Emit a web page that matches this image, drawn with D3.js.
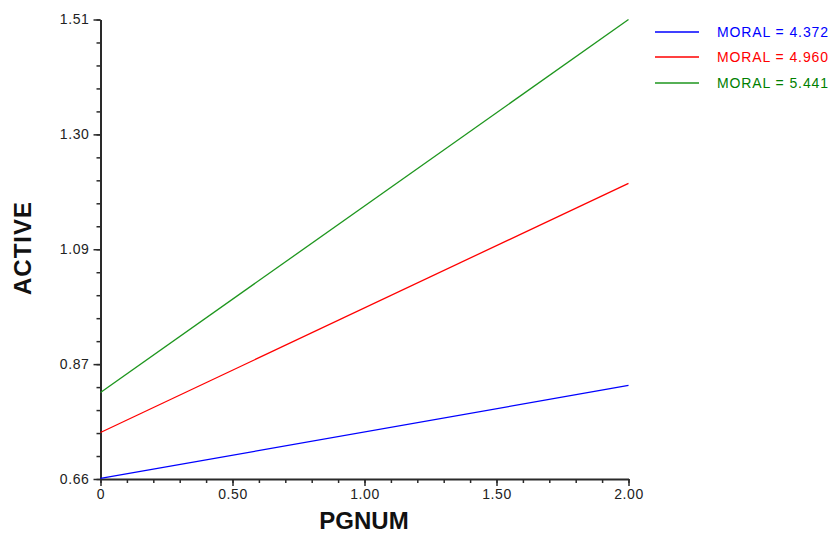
<!DOCTYPE html>
<html>
<head>
<meta charset="utf-8">
<script src="https://cdn.jsdelivr.net/npm/d3@7"></script>
<style>
  html, body { margin: 0; padding: 0; background: #fff; }
  svg { display: block; }
  text { font-family: "Liberation Sans", Arial, sans-serif; }
</style>
</head>
<body>
<svg id="chart" width="835" height="536"></svg>
<script>
// ---- data ----
const pgnum = [0, 2];
const seriesNames = ["MORAL = 4.372", "MORAL = 4.960", "MORAL = 5.441"];
const seriesColors = ["#0000ff", "#ff0000", "#1e961e"];
const textColors = ["#0000ff", "#ff0000", "#008000"];
const blueValues = [0.661, 0.833];
const redValues = [0.746, 1.207];
const greenValues = [0.820, 1.510];
const xTickValues = [0, 0.5, 1, 1.5, 2];
const xTickLabels = ["0", "0.50", "1.00", "1.50", "2.00"];
const yTickValues = [0.66, 0.8725, 1.085, 1.2975, 1.51];
const yTickLabels = ["0.66", "0.87", "1.09", "1.30", "1.51"];

const allSeries = [blueValues, redValues, greenValues];

const svg = d3.select("#chart");
const x = d3.scaleLinear().domain([0, 2]).range([100.5, 628.5]);
const y = d3.scaleLinear().domain([0.66, 1.51]).range([479, 19.5]);

const axisColor = "#2a2a2a";

// minor ticks
const xMinor = d3.range(0, 21).map(i => i * 0.1);
const yMinor = d3.range(0, 21).map(i => 0.66 + i * (1.51 - 0.66) / 20);

svg.append("g")
  .attr("transform", "translate(0,479)")
  .call(d3.axisBottom(x).tickValues(xMinor).tickFormat("").tickSize(4).tickSizeOuter(0))
  .call(g => g.select(".domain").remove())
  .call(g => g.selectAll("line").attr("stroke", axisColor).attr("stroke-width", 1.5));

svg.append("g")
  .attr("transform", "translate(100.5,0)")
  .call(d3.axisLeft(y).tickValues(yMinor).tickFormat("").tickSize(4).tickSizeOuter(0))
  .call(g => g.select(".domain").remove())
  .call(g => g.selectAll("line").attr("stroke", axisColor).attr("stroke-width", 1.5));

// major axes
const xAxis = svg.append("g")
  .attr("transform", "translate(0,479)")
  .call(d3.axisBottom(x).tickValues(xTickValues)
    .tickFormat((d, i) => xTickLabels[i]).tickSize(7).tickSizeOuter(0).tickPadding(3));
xAxis.select(".domain").attr("stroke", axisColor).attr("stroke-width", 2);
xAxis.selectAll("line").attr("stroke", axisColor).attr("stroke-width", 1.5);
xAxis.selectAll("text").attr("fill", "#222").style("font-size", "14px").style("letter-spacing", "0.6px")
  .style("font-family", "'Liberation Sans', Arial, sans-serif");

const yAxis = svg.append("g")
  .attr("transform", "translate(100.5,0)")
  .call(d3.axisLeft(y).tickValues(yTickValues)
    .tickFormat((d, i) => yTickLabels[i]).tickSize(7).tickSizeOuter(0).tickPadding(4));
yAxis.select(".domain").attr("stroke", axisColor).attr("stroke-width", 2);
yAxis.selectAll("line").attr("stroke", axisColor).attr("stroke-width", 1.5);
yAxis.selectAll("text").attr("fill", "#222").style("font-size", "14px").style("letter-spacing", "0.6px")
  .style("font-family", "'Liberation Sans', Arial, sans-serif");

// axis titles
svg.append("text")
  .attr("x", 364).attr("y", 529)
  .attr("text-anchor", "middle")
  .style("font-size", "24px").style("font-weight", "bold").attr("fill", "#111")
  .text("PGNUM");

svg.append("text")
  .attr("transform", "translate(31,248) rotate(-90)")
  .attr("text-anchor", "middle")
  .style("font-size", "24px").style("font-weight", "bold").attr("fill", "#111")
  .style("letter-spacing", "1px")
  .text("ACTIVE");

// lines
const line = d3.line().x((d, i) => x(pgnum[i])).y(d => y(d));
allSeries.forEach((vals, k) => {
  svg.append("path")
    .datum(vals)
    .attr("d", line)
    .attr("fill", "none")
    .attr("stroke", seriesColors[k])
    .attr("stroke-width", 1.3);
});

// legend
const legendY = [32, 57, 83];
seriesNames.forEach((name, k) => {
  svg.append("line")
    .attr("x1", 655).attr("x2", 699)
    .attr("y1", legendY[k]).attr("y2", legendY[k])
    .attr("stroke", seriesColors[k]).attr("stroke-width", 1.3);
  svg.append("text")
    .attr("x", 717).attr("y", legendY[k]).attr("dy", "0.36em")
    .style("font-size", "14px").style("letter-spacing", "0.9px")
    .attr("fill", textColors[k])
    .text(name);
});
</script>
</body>
</html>
